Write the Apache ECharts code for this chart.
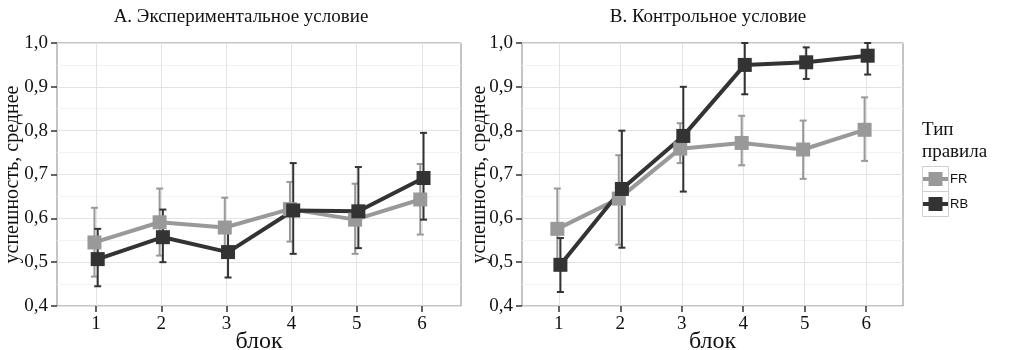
<!DOCTYPE html>
<html>
<head>
<meta charset="utf-8">
<script src="https://cdn.jsdelivr.net/npm/echarts@6/dist/echarts.min.js"></script>
<style>html,body{margin:0;padding:0;background:#fff;}#c{width:1024px;height:350px;}</style>
</head>
<body>
<div id="c"></div>
<script>
const blocks = [1, 2, 3, 4, 5, 6];
const yTicks = [0.4, 0.5, 0.6, 0.7, 0.8, 0.9, 1.0];
const groups = ['FR', 'RB'];
const panelTitles = ['A. Экспериментальное условие', 'B. Контрольное условие'];

const expFR   = [0.545, 0.591, 0.579, 0.621, 0.597, 0.643];
const expFRlo = [0.467, 0.515, 0.511, 0.547, 0.519, 0.563];
const expFRhi = [0.624, 0.668, 0.647, 0.683, 0.679, 0.724];
const expRB   = [0.507, 0.557, 0.523, 0.618, 0.616, 0.692];
const expRBlo = [0.445, 0.500, 0.465, 0.519, 0.532, 0.597];
const expRBhi = [0.576, 0.620, 0.581, 0.726, 0.717, 0.795];

const ctlFR   = [0.576, 0.645, 0.759, 0.772, 0.757, 0.802];
const ctlFRlo = [0.485, 0.540, 0.726, 0.721, 0.690, 0.731];
const ctlFRhi = [0.668, 0.744, 0.817, 0.834, 0.823, 0.876];
const ctlRB   = [0.494, 0.667, 0.788, 0.950, 0.956, 0.971];
const ctlRBlo = [0.432, 0.533, 0.661, 0.883, 0.918, 0.928];
const ctlRBhi = [0.555, 0.800, 0.900, 1.000, 0.990, 1.000];

const colors = { FR: '#999999', RB: '#333333' };
const dodge = { FR: -0.025, RB: 0.025 };
const serif = 'Liberation Serif';

const chart = echarts.init(document.getElementById('c'), null, { renderer: 'canvas' });

function errRender(params, api) {
  const x = api.value(0), lo = api.value(1), hi = api.value(2);
  const p1 = api.coord([x, hi]), p2 = api.coord([x, lo]);
  const w = 3.5;
  const st = { stroke: api.visual('color'), lineWidth: 2 };
  return {
    type: 'group',
    children: [
      { type: 'line', shape: { x1: p1[0], y1: p1[1], x2: p2[0], y2: p2[1] }, style: st },
      { type: 'line', shape: { x1: p1[0] - w, y1: p1[1], x2: p1[0] + w, y2: p1[1] }, style: st },
      { type: 'line', shape: { x1: p2[0] - w, y1: p2[1], x2: p2[0] + w, y2: p2[1] }, style: st }
    ]
  };
}

const panels = [
  { FR: [expFR, expFRlo, expFRhi], RB: [expRB, expRBlo, expRBhi] },
  { FR: [ctlFR, ctlFRlo, ctlFRhi], RB: [ctlRB, ctlRBlo, ctlRBhi] }
];

const series = [];
panels.forEach((p, pi) => {
  groups.forEach(g => {
    const [m, lo, hi] = p[g];
    series.push({
      name: g, type: 'custom', xAxisIndex: pi, yAxisIndex: pi,
      renderItem: errRender, itemStyle: { color: colors[g] },
      encode: { x: 0, y: [1, 2] }, z: 2, silent: true,
      data: blocks.map((b, i) => [b + dodge[g], lo[i], hi[i]])
    });
  });
  groups.forEach(g => {
    const [m] = p[g];
    series.push({
      name: g, type: 'line', xAxisIndex: pi, yAxisIndex: pi, z: 3,
      showSymbol: false, symbol: 'none', silent: true,
      lineStyle: { color: colors[g], width: 4 }, itemStyle: { color: colors[g] },
      data: blocks.map((b, i) => [b + dodge[g], m[i]])
    });
  });
  groups.forEach(g => {
    const [m] = p[g];
    series.push({
      name: g, type: 'scatter', xAxisIndex: pi, yAxisIndex: pi, z: 4,
      symbol: 'rect', symbolSize: 14, silent: true,
      itemStyle: { color: colors[g], opacity: 1 },
      data: blocks.map((b, i) => [b + dodge[g], m[i]])
    });
  });
});

const grids = [
  { left: 57, top: 43, width: 404, height: 263 },
  { left: 522, top: 43, width: 381, height: 263 }
];

function xAxis(i) {
  return {
    type: 'value', gridIndex: i, min: 0.4, max: 6.6,
    name: 'блок', nameLocation: 'middle', nameGap: 24, nameMoveOverlap: false,
    nameTextStyle: { fontFamily: serif, fontSize: 24, color: '#111' },
    axisLine: { show: false },
    axisTick: { show: true, length: 6, customValues: blocks, lineStyle: { color: '#333', width: 1.5 } },
    axisLabel: { customValues: blocks, margin: 9, fontFamily: serif, fontSize: 19, color: '#111' },
    splitLine: { show: true, lineStyle: { color: '#e3e3e3', width: 1 } }
  };
}
function yAxis(i) {
  return {
    type: 'value', gridIndex: i, min: 0.4, max: 1.0, interval: 0.1,
    name: 'успешность, среднее', nameLocation: 'middle', nameRotate: 90,
    nameGap: i === 0 ? 34 : 32, nameMoveOverlap: false,
    nameTextStyle: { fontFamily: serif, fontSize: 20, color: '#111' },
    axisLine: { show: false },
    axisTick: { show: true, length: 6, lineStyle: { color: '#333', width: 1.5 } },
    axisLabel: { margin: 9, fontFamily: serif, fontSize: 19, color: '#111',
      formatter: v => v.toFixed(1).replace('.', ',') },
    splitLine: { show: true, lineStyle: { color: '#e3e3e3', width: 1 } },
    minorTick: { show: false, splitNumber: 2 },
    minorSplitLine: { show: true, lineStyle: { color: '#f2f2f2', width: 1 } }
  };
}

const option = {
  backgroundColor: '#ffffff',
  animation: false,
  grid: grids.map(g => Object.assign({ show: true, borderColor: '#8a8a8a', borderWidth: 1, backgroundColor: '#fff', outerBoundsMode: 'none', containLabel: false }, g)),
  xAxis: [xAxis(0), xAxis(1)],
  yAxis: [yAxis(0), yAxis(1)],
  legend: {
    orient: 'vertical', left: 923, top: 172, padding: 0,
    itemWidth: 25, itemHeight: 25, itemGap: 11,
    data: groups.map(g => ({ name: g, icon: 'path://M0,10.5H5.5V5.5H19.5V10.5H25V14.5H19.5V19.5H5.5V14.5H0Z', itemStyle: { color: colors[g] } })),
    selectedMode: false,
    textStyle: { fontFamily: 'Liberation Sans', fontSize: 13, color: '#111', padding: [2, 0, 0, -3] }
  },
  graphic: [
    { type: 'text', x: 241, y: 17, style: { text: panelTitles[0], font: '19px "Liberation Serif"', fill: '#111', textAlign: 'center', textVerticalAlign: 'middle' } },
    { type: 'text', x: 708, y: 17, style: { text: panelTitles[1], font: '19px "Liberation Serif"', fill: '#111', textAlign: 'center', textVerticalAlign: 'middle' } },
    { type: 'text', x: 922, y: 130, style: { text: 'Тип', font: '19px "Liberation Serif"', fill: '#111', textAlign: 'left', textVerticalAlign: 'middle' } },
    { type: 'text', x: 922, y: 152, style: { text: 'правила', font: '19px "Liberation Serif"', fill: '#111', textAlign: 'left', textVerticalAlign: 'middle' } },
    { type: 'rect', z: 0, shape: { x: 922.5, y: 166.5, width: 26, height: 25 }, style: { fill: '#fff', stroke: '#cfcfcf', lineWidth: 1 } },
    { type: 'rect', z: 0, shape: { x: 922.5, y: 191.5, width: 26, height: 25 }, style: { fill: '#fff', stroke: '#cfcfcf', lineWidth: 1 } }
  ],
  series: series
};
chart.setOption(option);
</script>
</body>
</html>
